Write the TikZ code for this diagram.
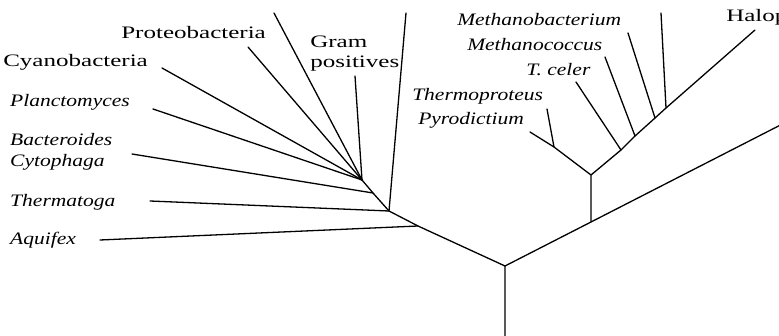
\documentclass[tikz,border=0pt]{standalone}
\usepackage{fontspec}
\setmainfont{Liberation Serif}
\begin{document}
\begin{tikzpicture}[x=1pt,y=-1pt,
  br/.style={line width=1.3pt, line cap=round, line join=round},
  up/.style={font=\fontsize{17.5}{18}\selectfont, xscale=1.43, inner sep=0pt, anchor=base west},
  it/.style={font=\fontsize{17.5}{18}\selectfont\itshape, xscale=1.23, inner sep=0pt, anchor=base west}]
\useasboundingbox (0,0) rectangle (779,336);
\clip (0,0) rectangle (779,336);
% internal nodes
\coordinate (R) at (505,266);
\coordinate (Bot) at (505,340);
\coordinate (A) at (418,226);
\coordinate (T) at (389,211);
\coordinate (Bc) at (373,193);
\coordinate (G) at (362,180);
\coordinate (J) at (591,222);
\coordinate (K) at (591,175);
\coordinate (C) at (554,147);
\coordinate (E1) at (621,150);
\coordinate (E2) at (635,136);
\coordinate (E3) at (655,118);
\coordinate (E4) at (666,108);
\coordinate (Rend) at (800,115);
% leaf ends
\coordinate (lAq) at (100,240);
\coordinate (lTh) at (150,201);
\coordinate (lTop1) at (406,13);
\coordinate (lBc) at (132,154);
\coordinate (lGp) at (355,76);
\coordinate (lPl) at (153,109);
\coordinate (lCy) at (162,68);
\coordinate (lPr) at (248,47);
\coordinate (lTop2) at (274,13);
\coordinate (lPy) at (530,132);
\coordinate (lTp) at (547,109);
\coordinate (lTc) at (576,82);
\coordinate (lMc) at (605,57);
\coordinate (lMb) at (628,33);
\coordinate (lTop3) at (661,13);
\coordinate (lHa) at (755,30);
% branches
\draw[br] (Bot) -- (R) -- (A) -- (T) -- (Bc) -- (G);
\draw[br] (R) -- (J) -- (Rend);
\draw[br] (A) -- (lAq);
\draw[br] (T) -- (lTh);
\draw[br] (T) -- (lTop1);
\draw[br] (Bc) -- (lBc);
\draw[br] (G) -- (lGp);
\draw[br] (G) -- (lPl);
\draw[br] (G) -- (lCy);
\draw[br] (G) -- (lPr);
\draw[br] (G) -- (lTop2);
\draw[br] (J) -- (K) -- (C) -- (lPy);
\draw[br] (C) -- (lTp);
\draw[br] (K) -- (E1) -- (E2) -- (E3) -- (E4) -- (lHa);
\draw[br] (E1) -- (lTc);
\draw[br] (E2) -- (lMc);
\draw[br] (E3) -- (lMb);
\draw[br] (E4) -- (lTop3);
% labels
\node[up] (tPr) at (121,38.5) {Proteobacteria};
\node[up] (tCy) at (3,67) {Cyanobacteria};
\node[up] (tGr) at (310,48) {Gram};
\node[up] (tPo) at (310,68) {positives};
\node[it] (tPl) at (10,107) {Planctomyces};
\node[it] (tBa) at (10,146) {Bacteroides};
\node[it] (tCt) at (10,167) {Cytophaga};
\node[it] (tTh) at (10,207) {Thermatoga};
\node[it] (tAq) at (10,245) {Aquifex};
\node[it] (tMb) at (457,26) {Methanobacterium};
\node[it] (tMc) at (467,51) {Methanococcus};
\node[it] (tTc) at (526,76) {T. celer};
\node[it] (tTp) at (412,101) {Thermoproteus};
\node[it] (tPy) at (418,125) {Pyrodictium};
\node[up] (tHa) at (726,22) {Halophiles};
\end{tikzpicture}
\end{document}
